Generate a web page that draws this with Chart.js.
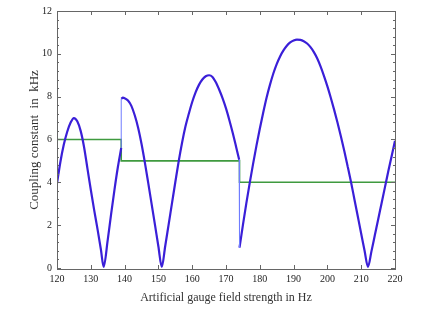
<!DOCTYPE html>
<html lang="en">
<head>
    <meta charset="UTF-8">
    <title>Coupling constant vs artificial gauge field</title>
    <script src="https://cdn.jsdelivr.net/npm/chart.js"></script>
    <style>
        body { margin: 0; padding: 0; background: #fff; }
        canvas { display: block; }
    </style>
</head>
<body>
    <canvas id="coupling" width="436" height="327"></canvas>

    <script>
        // values
        const hump1Hz  = [120, 121, 122, 123, 124, 125, 126, 127, 128, 129, 130, 131, 132, 133, 133.8, 135, 136, 137, 138, 139];
        const hump1Khz = [3.95, 4.95, 5.75, 6.35, 6.78, 7.0, 6.85, 6.4, 5.65, 4.65, 3.65, 2.7, 1.8, 0.85, 0.05, 1.3, 2.5, 3.65, 4.7, 5.6];

        const hump2Hz  = [139, 139.5, 140, 141, 142, 143, 144, 145, 146, 147, 148, 149, 150, 151,
                          152, 153, 154, 155, 156, 157, 158, 159, 160, 161, 162, 163, 164, 165,
                          166, 167, 168, 169, 170, 171, 172, 173, 173.9];
        const hump2Khz = [7.9, 7.95, 7.93, 7.82, 7.57, 7.13, 6.55, 5.8, 4.92, 3.96, 2.98, 2.0, 1.0, 0.05,
                          1.0, 2.0, 3.0, 4.0, 4.98, 5.85, 6.6, 7.2, 7.75, 8.2, 8.55, 8.8, 8.95, 9.0,
                          8.92, 8.67, 8.32, 7.92, 7.45, 6.9, 6.3, 5.65, 5.05];

        const hump3Hz  = [174, 175, 176, 177, 178, 179, 180, 181, 182, 183, 184, 185, 186, 187, 188, 189, 190,
                          191, 192, 193, 194, 195, 196, 197, 198, 199, 200, 201, 202, 203, 204, 205, 206,
                          207, 208, 209, 210, 211, 212, 213, 214, 215, 216, 217, 218, 219, 220];
        const hump3Khz = [0.95, 2.0, 3.0, 3.95, 4.85, 5.7, 6.5, 7.25, 7.95, 8.55, 9.08, 9.52, 9.88, 10.16, 10.38, 10.53, 10.62,
                          10.66, 10.65, 10.59, 10.48, 10.31, 10.08, 9.78, 9.4, 8.96, 8.48, 7.95, 7.38, 6.78, 6.14, 5.46, 4.74,
                          4.0, 3.2, 2.4, 1.6, 0.8, 0.05, 0.75, 1.5, 2.25, 3.0, 3.75, 4.5, 5.22, 5.94];

        const stepHz  = [120, 139, 139, 174, 174, 220];
        const stepKhz = [6, 6, 5, 5, 4, 4];

        const xTicks = [120, 130, 140, 150, 160, 170, 180, 190, 200, 210, 220];
        const yTicks = [0, 2, 4, 6, 8, 10, 12];

        const pts = (xs, ys) => xs.map((v, i) => ({ x: v, y: ys[i] }));
        const last = a => a[a.length - 1];

        // thin vertical jumps between the branches
        const jumps = [
            { x: last(hump1Hz), y: last(hump1Khz) }, { x: hump2Hz[0], y: hump2Khz[0] },
            { x: last(hump1Hz), y: null },
            { x: last(hump2Hz), y: last(hump2Khz) }, { x: hump3Hz[0], y: hump3Khz[0] }
        ];

        const serif = '"Liberation Serif", "DejaVu Serif", serif';
        const blue = '#3a1fd8';

        const lineDs = (label, data) => ({
            label, data,
            borderColor: blue, borderWidth: 2.2,
            pointRadius: 0, cubicInterpolationMode: 'monotone'
        });

        // box frame with inward ticks
        const frame = {
            id: 'frame',
            afterDatasetsDraw(chart) {
                const { ctx, chartArea: a, scales: { x, y } } = chart;
                ctx.save();
                ctx.strokeStyle = '#666';
                ctx.lineWidth = 1;
                ctx.strokeRect(Math.round(a.left) + 0.5, Math.round(a.top) + 0.5,
                               Math.round(a.right - a.left), Math.round(a.bottom - a.top));
                ctx.beginPath();
                xTicks.forEach(v => {
                    const px = Math.round(x.getPixelForValue(v)) + 0.5;
                    ctx.moveTo(px, a.bottom); ctx.lineTo(px, a.bottom - 4);
                    ctx.moveTo(px, a.top); ctx.lineTo(px, a.top + 4);
                });
                for (let i = 0; i <= 30; i++) {
                    const py = Math.round(y.getPixelForValue(i * 0.4)) + 0.5;
                    const len = i % 5 === 0 ? 4 : 2;
                    ctx.moveTo(a.left, py); ctx.lineTo(a.left + len, py);
                    ctx.moveTo(a.right, py); ctx.lineTo(a.right - len, py);
                }
                ctx.stroke();
                ctx.restore();
            }
        };

        new Chart(document.getElementById('coupling'), {
            type: 'line',
            data: {
                datasets: [
                    {
                        label: 'jumps', data: jumps,
                        borderColor: '#6f7cff', borderWidth: 1, pointRadius: 0, spanGaps: false
                    },
                    lineDs('branch 1', pts(hump1Hz, hump1Khz)),
                    lineDs('branch 2', pts(hump2Hz, hump2Khz)),
                    lineDs('branch 3', pts(hump3Hz, hump3Khz)),
                    {
                        label: 'step', data: pts(stepHz, stepKhz),
                        borderColor: '#3f9a3f', borderWidth: 1.6, pointRadius: 0, tension: 0
                    }
                ]
            },
            options: {
                responsive: false,
                animation: false,
                layout: { padding: { top: 5, right: 41, bottom: 18, left: 0 } },
                plugins: { legend: { display: false }, tooltip: { enabled: false } },
                scales: {
                    x: {
                        type: 'linear', min: 120, max: 220,
                        afterFit: s => { s.height = 40; },
                        afterBuildTicks: s => { s.ticks = xTicks.map(v => ({ value: v })); },
                        grid: { display: false, drawTicks: false },
                        border: { display: false },
                        ticks: { padding: 4, color: '#222', font: { family: serif, size: 10 }, maxRotation: 0 },
                        title: {
                            display: true, text: 'Artificial gauge field strength in Hz',
                            color: '#333', font: { family: serif, size: 12 },
                            padding: { top: 0, bottom: 4 }
                        }
                    },
                    y: {
                        type: 'linear', min: -0.05, max: 12,
                        afterFit: s => { s.width = 57; },
                        afterBuildTicks: s => { s.ticks = yTicks.map(v => ({ value: v })); },
                        grid: { display: false, drawTicks: false },
                        border: { display: false },
                        ticks: { padding: 5, color: '#222', font: { family: serif, size: 10 } },
                        title: {
                            display: true, text: 'Coupling constant  in  kHz',
                            color: '#333', font: { family: serif, size: 13 },
                            padding: { top: 27, bottom: 0 }
                        }
                    }
                }
            },
            plugins: [frame]
        });
    </script>
</body>
</html>
